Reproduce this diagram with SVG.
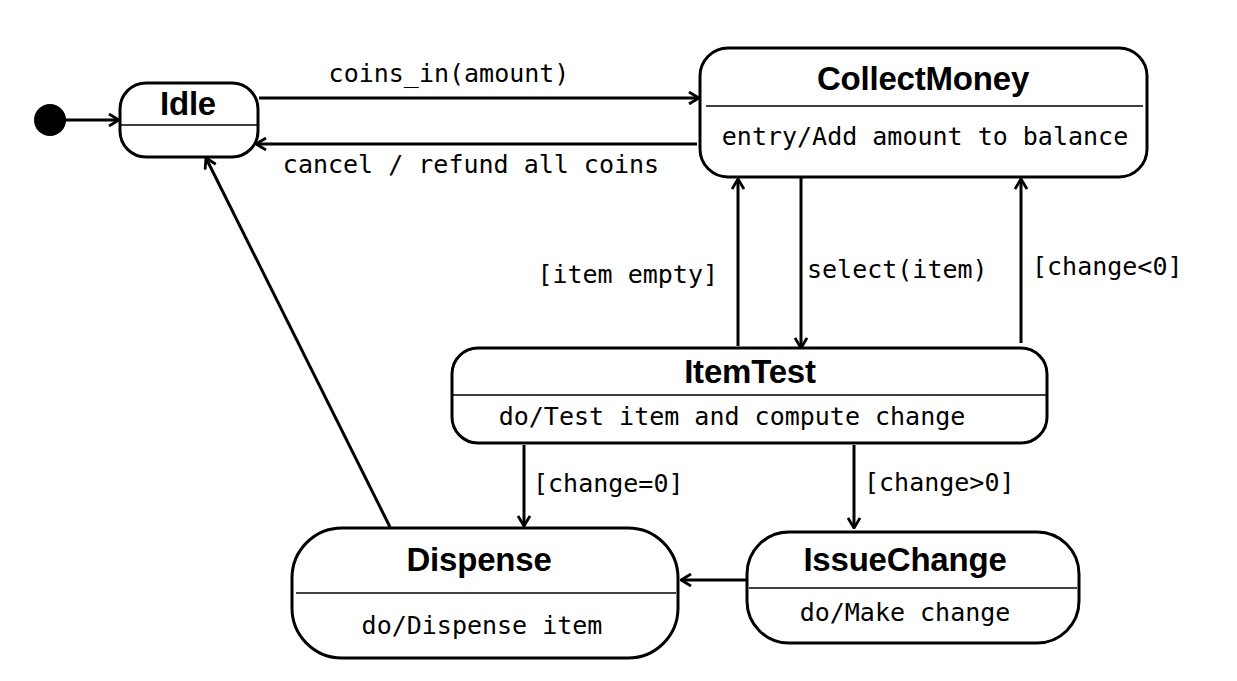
<svg xmlns="http://www.w3.org/2000/svg" width="1237" height="681" viewBox="0 0 1237 681">
<style>
.box{fill:#fff;stroke:#000;stroke-width:3}
.div{stroke:#000;stroke-width:1.5}
.title{font-family:"Liberation Sans",Arial,sans-serif;font-weight:bold;font-size:33px;text-anchor:middle;letter-spacing:-0.2px}
.body{font-family:"DejaVu Sans Mono",monospace;font-size:25px;text-anchor:middle}
.lbl{font-family:"DejaVu Sans Mono",monospace;font-size:25px}
.edge{fill:none;stroke:#000;stroke-width:3;marker-end:url(#arr)}
</style>
<defs>
<marker id="arr" markerUnits="userSpaceOnUse" viewBox="0 0 12 14" refX="11" refY="7" markerWidth="12" markerHeight="14" orient="auto">
<path d="M1,1 L11,7 L1,13" fill="none" stroke="#000" stroke-width="2.8"/>
</marker>
</defs>
<rect width="1237" height="681" fill="#fff"/>
<g id="connectors">
<line class="edge" x1="64" y1="120" x2="119" y2="120"/>
<line class="edge" x1="259" y1="98" x2="699" y2="98"/>
<line class="edge" x1="697" y1="144" x2="256" y2="144"/>
<line class="edge" x1="738" y1="346" x2="738" y2="179"/>
<line class="edge" x1="801" y1="177" x2="801" y2="348"/>
<line class="edge" x1="1021" y1="343" x2="1021" y2="179"/>
<line class="edge" x1="524" y1="445" x2="524" y2="526"/>
<line class="edge" x1="854" y1="445" x2="854" y2="528"/>
<line class="edge" x1="747" y1="580" x2="681" y2="580"/>
<line class="edge" x1="390" y1="527" x2="206" y2="158"/>
<text class="lbl" x="449" y="82" text-anchor="middle">coins_in(amount)</text>
<text class="lbl" x="471" y="173" text-anchor="middle">cancel / refund all coins</text>
<text class="lbl" x="718" y="283" text-anchor="end">[item empty]</text>
<text class="lbl" x="807" y="278">select(item)</text>
<text class="lbl" x="1032" y="275">[change&lt;0]</text>
<text class="lbl" x="533" y="492">[change=0]</text>
<text class="lbl" x="864" y="491">[change&gt;0]</text>
</g>
<g id="initial">
<circle cx="50" cy="120" r="16" fill="#000"/>
</g>
<g id="Idle">
<rect class="box" x="120" y="83" width="138" height="74" rx="26"/>
<line class="div" x1="121" y1="125" x2="257" y2="125"/>
<text class="title" x="188" y="115">Idle</text>
</g>
<g id="CollectMoney">
<rect class="box" x="700" y="48" width="447" height="129" rx="28"/>
<line class="div" x1="706" y1="106" x2="1143" y2="106"/>
<text class="title" x="923" y="90">CollectMoney</text>
<text class="body" x="925" y="145">entry/Add amount to balance</text>
</g>
<g id="ItemTest">
<rect class="box" x="452" y="348" width="595" height="95" rx="26"/>
<line class="div" x1="453" y1="395" x2="1046" y2="395"/>
<text class="title" x="750" y="383">ItemTest</text>
<text class="body" x="732" y="425">do/Test item and compute change</text>
</g>
<g id="Dispense">
<rect class="box" x="292" y="528" width="386" height="130" rx="50"/>
<line class="div" x1="296" y1="593" x2="676" y2="593"/>
<text class="title" x="479" y="571">Dispense</text>
<text class="body" x="482" y="634">do/Dispense item</text>
</g>
<g id="IssueChange">
<rect class="box" x="747" y="532" width="332" height="111" rx="42"/>
<line class="div" x1="749" y1="588" x2="1077" y2="588"/>
<text class="title" x="905" y="571">IssueChange</text>
<text class="body" x="905" y="621">do/Make change</text>
</g>
</svg>
